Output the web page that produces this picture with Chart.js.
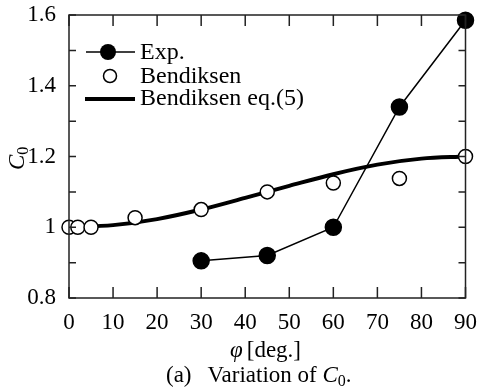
<!DOCTYPE html>
<html>
<head>
<meta charset="utf-8">
<script src="https://cdn.jsdelivr.net/npm/chart.js@4.4.1/dist/chart.umd.min.js"></script>
<style>
html, body { margin: 0; padding: 0; background: #fff; }
#wrap { width: 477px; height: 391px; }
</style>
</head>
<body>
<div id="wrap"><canvas id="c"></canvas></div>
<script>
// 实验值
const expPhi = [30, 45, 60, 75, 90];
const expC0 = [0.905, 0.92, 1.0, 1.34, 1.585];
// Bendiksen 数据点
const bendPhi = [0, 2, 5, 15, 30, 45, 60, 75, 90];
const bendC0 = [1.0, 1.0, 1.0, 1.027, 1.05, 1.1, 1.125, 1.138, 1.2];
// Bendiksen eq.(5) 曲线
const eqPhi = [0, 10, 20, 30, 40, 50, 60, 70, 80, 90];
const eqC0 = [1.0, 1.006, 1.023, 1.05, 1.083, 1.117, 1.15, 1.177, 1.194, 1.2];
// 刻度
const xTicks = [0, 10, 20, 30, 40, 50, 60, 70, 80, 90];
const yTicks = [0.8, 1.0, 1.2, 1.4, 1.6];
const yMinor = [0.9, 1.1, 1.3, 1.5];

const FONT = "'Liberation Serif', 'Times New Roman', serif";

function pts(xs, ys) {
    return xs.map((x, i) => ({ x: x, y: ys[i] }));
}

// 边框、内向刻度、图例和标题
const decor = {
    id: 'decor',
    afterDraw(chart) {
        const ctx = chart.ctx;
        const a = chart.chartArea;
        const xs = chart.scales.x, ys = chart.scales.y;
        ctx.save();
        ctx.strokeStyle = '#222';
        ctx.lineWidth = 1.5;
        ctx.strokeRect(a.left, a.top, a.right - a.left, a.bottom - a.top);
        ctx.beginPath();
        xTicks.forEach(v => {
            const px = xs.getPixelForValue(v);
            ctx.moveTo(px, a.bottom); ctx.lineTo(px, a.bottom - 11);
            ctx.moveTo(px, a.top); ctx.lineTo(px, a.top + 11);
        });
        yTicks.concat(yMinor).forEach(v => {
            const py = ys.getPixelForValue(v);
            ctx.moveTo(a.left, py); ctx.lineTo(a.left + 7, py);
            ctx.moveTo(a.right, py); ctx.lineTo(a.right - 7, py);
        });
        ctx.stroke();

        // 图例
        ctx.fillStyle = '#000';
        ctx.strokeStyle = '#000';
        ctx.lineWidth = 1.5;
        ctx.beginPath();
        ctx.moveTo(86, 52); ctx.lineTo(135, 52);
        ctx.stroke();
        ctx.beginPath();
        ctx.arc(108, 52, 8, 0, Math.PI * 2);
        ctx.fill();
        ctx.beginPath();
        ctx.arc(110, 76, 6.5, 0, Math.PI * 2);
        ctx.fillStyle = '#fff';
        ctx.fill();
        ctx.stroke();
        ctx.lineWidth = 4;
        ctx.beginPath();
        ctx.moveTo(85, 99); ctx.lineTo(135, 99);
        ctx.stroke();
        ctx.fillStyle = '#000';
        ctx.font = '24px ' + FONT;
        ctx.textBaseline = 'middle';
        ctx.textAlign = 'left';
        ctx.fillText('Exp.', 140, 53);
        ctx.fillText('Bendiksen', 140, 77);
        ctx.fillText('Bendiksen eq.(5)', 140, 99);

        // x 轴标题
        ctx.textBaseline = 'alphabetic';
        let x = 230;
        ctx.font = 'italic 23px ' + FONT;
        ctx.fillText('\u03c6', x, 357);
        x += ctx.measureText('\u03c6').width + 4;
        ctx.font = '23px ' + FONT;
        ctx.fillText('[deg.]', x, 357);

        // 图注
        x = 166;
        ctx.fillText('(a)', x, 382);
        x += ctx.measureText('(a)').width + 16;
        ctx.fillText('Variation of ', x, 382);
        x += ctx.measureText('Variation of ').width;
        ctx.font = 'italic 23px ' + FONT;
        ctx.fillText('C', x, 382);
        x += ctx.measureText('C').width;
        ctx.font = '16px ' + FONT;
        ctx.fillText('0', x, 386);
        x += ctx.measureText('0').width;
        ctx.font = '23px ' + FONT;
        ctx.fillText('.', x, 382);

        // y 轴标题
        ctx.translate(24, 170);
        ctx.rotate(-Math.PI / 2);
        ctx.font = 'italic 23px ' + FONT;
        ctx.fillText('C', 0, 0);
        const cw = ctx.measureText('C').width;
        ctx.font = '16px ' + FONT;
        ctx.fillText('0', cw, 4);
        ctx.restore();
    }
};

new Chart(document.getElementById('c'), {
    type: 'scatter',
    data: {
        datasets: [
            {
                label: 'Exp.',
                data: pts(expPhi, expC0),
                showLine: true,
                borderColor: '#000',
                borderWidth: 1.5,
                pointRadius: 8,
                pointBackgroundColor: '#000',
                pointBorderColor: '#000',
                clip: false,
                order: 0
            },
            {
                label: 'Bendiksen',
                data: pts(bendPhi, bendC0),
                showLine: false,
                pointRadius: 7,
                pointBorderWidth: 1.5,
                pointBackgroundColor: '#fff',
                pointBorderColor: '#000',
                clip: false,
                order: 1
            },
            {
                label: 'Bendiksen eq.(5)',
                data: pts(eqPhi, eqC0),
                showLine: true,
                borderColor: '#000',
                borderWidth: 4,
                pointRadius: 0,
                cubicInterpolationMode: 'monotone',
                order: 2
            }
        ]
    },
    options: {
        responsive: true,
        maintainAspectRatio: false,
        animation: false,
        layout: { padding: { left: 0, top: 15, right: 11.5, bottom: 0 } },
        plugins: {
            legend: { display: false },
            tooltip: { enabled: false }
        },
        scales: {
            x: {
                type: 'linear',
                min: 0,
                max: 90,
                afterFit: s => { s.height = 93; s.paddingLeft = 0; s.paddingRight = 0; },
                afterBuildTicks: s => { s.ticks = xTicks.map(v => ({ value: v })); },
                grid: { display: false },
                border: { display: false },
                ticks: {
                    color: '#000',
                    padding: 3,
                    font: { family: FONT, size: 23 }
                }
            },
            y: {
                min: 0.8,
                max: 1.6,
                afterFit: s => { s.width = 69; s.paddingTop = 0; s.paddingBottom = 0; },
                afterBuildTicks: s => { s.ticks = yTicks.map(v => ({ value: v })); },
                grid: { display: false },
                border: { display: false },
                ticks: {
                    color: '#000',
                    padding: 5,
                    font: { family: FONT, size: 23 },
                    callback: v => Math.abs(v - 1) < 1e-6 ? '1' : v.toFixed(1)
                }
            }
        }
    },
    plugins: [decor]
});
</script>
</body>
</html>
